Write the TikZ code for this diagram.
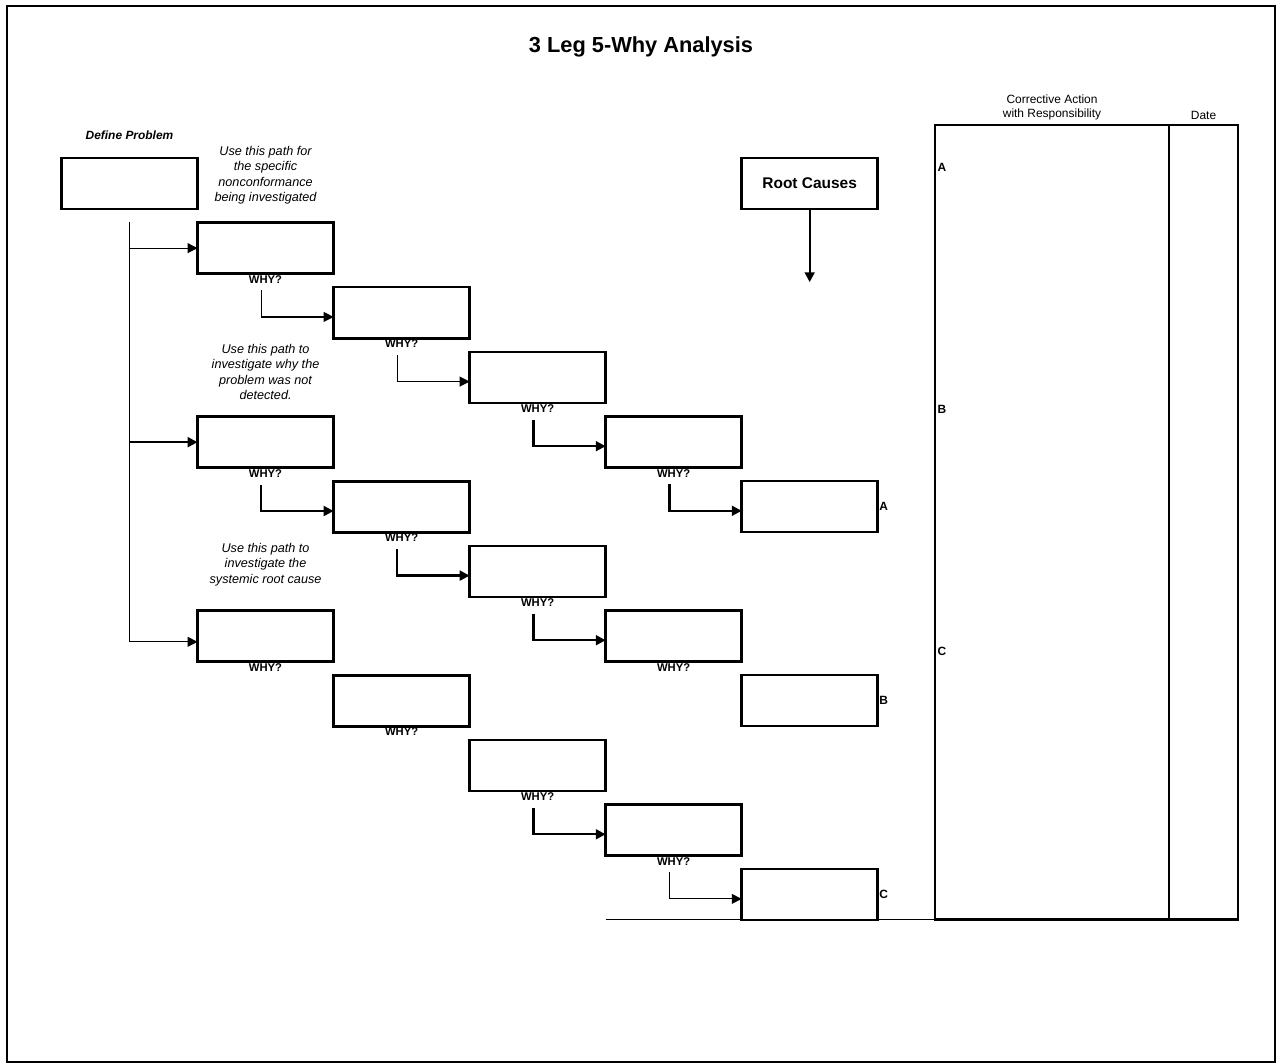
\documentclass[tikz,border=0pt]{standalone}
\usepackage{fontspec}
\setmainfont{Liberation Sans}
\usetikzlibrary{positioning, arrows.meta}

\begin{document}
\begin{tikzpicture}[x=0.025cm, y=-0.025cm,
    cause/.style={rectangle, draw, line width=1.8pt, minimum width=3.4cm, minimum height=1.275cm, inner sep=0pt, outer sep=0pt},
    column/.style={rectangle, draw, line width=1.8pt, minimum height=19.86cm, inner sep=0pt, outer sep=0pt},
    whytext/.style={font=\bfseries\fontsize{8}{9}\selectfont, inner sep=1pt},
    note/.style={font=\itshape\fontsize{9}{11}\selectfont, align=center},
    tag/.style={font=\bfseries\fontsize{8.5}{10}\selectfont, inner sep=1pt},
    link/.style={-{Triangle[length=7pt,width=7pt]}, line width=0.8pt},
    heavylink/.style={link, line width=1.6pt}]
            \useasboundingbox (0,0) rectangle (1276,1063);
            \draw[line width=1.4pt] (7,6) rectangle (1275,1062);

            % Title and problem box
            \node (title) [font=\bfseries\fontsize{15.5}{18}\selectfont] at (641,47) {3 Leg 5-Why Analysis};
            \node (def) [cause] at (129.5,183.5) {};
            \node (deflabel) [above=0.33cm of def, font=\bfseries\itshape\fontsize{8.5}{10}\selectfont] {Define Problem};

            % Leg 1
            \node (b11) [cause, below right=0.34cm and 0cm of def] {};
            \node (b12) [cause, below right=0.34cm and 0cm of b11] {};
            \node (b13) [cause, below right=0.34cm and 0cm of b12] {};
            \node (b14) [cause, below right=0.34cm and 0cm of b13] {};
            \node (b15) [cause, below right=0.34cm and 0cm of b14] {};

            % Leg 2
            \node (b21) [cause, below=3.575cm of b11] {};
            \node (b22) [cause, below right=0.34cm and 0cm of b21] {};
            \node (b23) [cause, below right=0.34cm and 0cm of b22] {};
            \node (b24) [cause, below right=0.34cm and 0cm of b23] {};
            \node (b25) [cause, below right=0.34cm and 0cm of b24] {};

            % Leg 3
            \node (b31) [cause, below=3.575cm of b21] {};
            \node (b32) [cause, below right=0.34cm and 0cm of b31] {};
            \node (b33) [cause, below right=0.34cm and 0cm of b32] {};
            \node (b34) [cause, below right=0.34cm and 0cm of b33] {};
            \node (b35) [cause, below right=0.34cm and 0cm of b34] {};

            % Path notes
            \node (note1) [note, above=0.33cm of b11] {Use this path for\\the specific\\nonconformance\\being investigated};
            \node (note2) [note, above=0.3cm of b21] {Use this path to\\investigate why the\\problem was not\\detected.};
            \node (note3) [note, above=0.5cm of b31] {Use this path to\\investigate the\\systemic root cause};

            % WHY? labels
            \node (w11) [whytext, below=0pt of b11] {WHY?};
            \node (w12) [whytext, below=0pt of b12] {WHY?};
            \node (w13) [whytext, below=0pt of b13] {WHY?};
            \node (w14) [whytext, below=0pt of b14] {WHY?};
            \node (w21) [whytext, below=0pt of b21] {WHY?};
            \node (w22) [whytext, below=0pt of b22] {WHY?};
            \node (w23) [whytext, below=0pt of b23] {WHY?};
            \node (w24) [whytext, below=0pt of b24] {WHY?};
            \node (w31) [whytext, below=0pt of b31] {WHY?};
            \node (w32) [whytext, below=0pt of b32] {WHY?};
            \node (w33) [whytext, below=0pt of b33] {WHY?};
            \node (w34) [whytext, below=0pt of b34] {WHY?};

            % Root causes
            \node (root) [cause, font=\bfseries\fontsize{11}{13}\selectfont] at (b15 |- def) {Root Causes};
            \coordinate (rootend) at ([yshift=-52pt]root.south);
            \node (sideA) [tag, right=0pt of b15] {A};
            \node (sideB) [tag, right=0pt of b25] {B};
            \node (sideC) [tag, right=0pt of b35] {C};

            % Corrective action table
            \node (act) [column, minimum width=5.85cm, anchor=north west] at (935,125) {};
            \node (date) [column, minimum width=1.725cm, right=0pt of act] {};
            \node (acthead) [above=0pt of act, align=center, font=\fontsize{8.5}{10}\selectfont] {Corrective Action\\with Responsibility};
            \node (datehead) [above=0pt of date, font=\fontsize{8.5}{10}\selectfont] {Date};
            \node (tagA) [tag, anchor=west] at (936,167) {A};
            \node (tagB) [tag, anchor=west] at (936,409) {B};
            \node (tagC) [tag, anchor=west] at (936,651) {C};

            % Arrows
            \coordinate (trunktop) at ([yshift=-9pt]def.south);
            \coordinate[yshift=-4pt] (trunkend) at (def.south |- b31.west);
            \draw[line width=0.8pt] (trunktop) -- (trunkend);
            \draw[link] (trunktop |- b11.west) -- (b11.west);
            \draw[heavylink] (trunktop |- b21.west) -- (b21.west);
            \draw[link] (trunkend) -- (trunkend -| b31.west);

            \draw[link] ([xshift=-3pt,yshift=-4pt]w11.south) |- ([yshift=-3pt]b12.west);
            \draw[link] ([xshift=-3pt,yshift=-4pt]w12.south) |- ([yshift=-3pt]b13.west);
            \draw[heavylink] ([xshift=-3pt,yshift=-4pt]w13.south) |- ([yshift=-3pt]b14.west);
            \draw[heavylink] ([xshift=-3pt,yshift=-4pt]w14.south) |- ([yshift=-3pt]b15.west);
            \draw[heavylink] ([xshift=-3pt,yshift=-4pt]w21.south) |- ([yshift=-3pt]b22.west);
            \draw[heavylink] ([xshift=-3pt,yshift=-4pt]w22.south) |- ([yshift=-3pt]b23.west);
            \draw[heavylink] ([xshift=-3pt,yshift=-4pt]w23.south) |- ([yshift=-3pt]b24.west);
            \draw[heavylink] ([xshift=-3pt,yshift=-4pt]w33.south) |- ([yshift=-3pt]b34.west);
            \draw[link] ([xshift=-3pt,yshift=-4pt]w34.south) |- ([yshift=-3pt]b35.west);
            \draw[heavylink] (root) -- (rootend);

            % Base line
            \draw[line width=1.2pt] (b34.west |- act.south) -- (act.south west);
\end{tikzpicture}
\end{document}
